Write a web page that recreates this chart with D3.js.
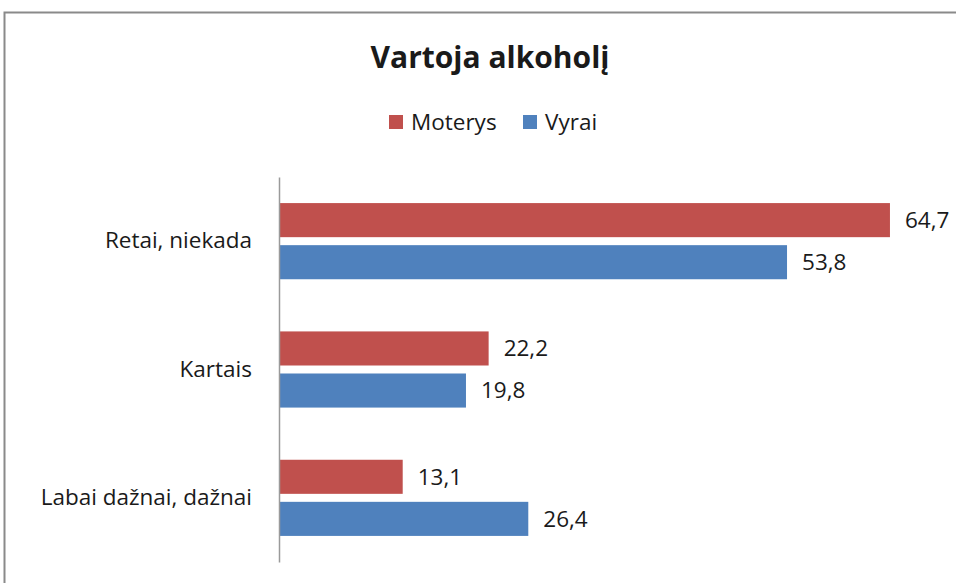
<!DOCTYPE html>
<html>
<head>
<meta charset="utf-8">
<script src="https://cdn.jsdelivr.net/npm/d3@7"></script>
<style>
  body { margin: 0; background: #fff; }
  text { font-family: "Open Sans", "Noto Sans", sans-serif; fill: #1a1a1a; }
</style>
</head>
<body>
<svg id="graph" width="956" height="583"></svg>
<script>
// duomenys
const categories = ['Retai, niekada', 'Kartais', 'Labai dažnai, dažnai'];
const seriesNames = ['Moterys', 'Vyrai'];
const moterys = [64.7, 22.2, 13.1];
const vyrai = [53.8, 19.8, 26.4];
const seriesColors = ['#C0504D', '#4F81BD'];
const title = 'Vartoja alkoholį';

const svg = d3.select('#graph');
const margin = { top: 177, left: 279 };
const plotRight = 940;
const plotBottom = 562;
const fontSize = '22.5px';

// rėmelis
svg.append('rect')
   .attr('x', 4.5).attr('y', 12.5)
   .attr('width', 1000).attr('height', 600)
   .attr('fill', 'none')
   .attr('stroke', '#8a8a8a')
   .attr('stroke-width', 2);

const xScale = d3.scaleLinear()
                 .domain([0, 70])
                 .range([margin.left, plotRight]);

const yScale = d3.scaleBand()
                 .domain(categories)
                 .range([margin.top, plotBottom]);

const inner = d3.scaleBand()
                .domain(seriesNames)
                .range([0, yScale.bandwidth()])
                .paddingInner(0.19)
                .paddingOuter(0.62);

const rows = categories.map((c, i) => ({ cat: c, values: [moterys[i], vyrai[i]] }));

const group = svg.selectAll('.grp').data(rows).enter().append('g')
    .attr('class', 'grp')
    .attr('transform', d => `translate(0, ${yScale(d.cat)})`);

group.selectAll('rect')
     .data(d => d.values.map((v, j) => ({ name: seriesNames[j], v, color: seriesColors[j] })))
     .enter().append('rect')
     .attr('x', xScale(0))
     .attr('y', d => inner(d.name))
     .attr('width', d => xScale(d.v) - xScale(0))
     .attr('height', inner.bandwidth())
     .attr('fill', d => d.color);

group.selectAll('.value_label')
     .data(d => d.values.map((v, j) => ({ name: seriesNames[j], v })))
     .enter().append('text')
     .attr('class', 'value_label')
     .attr('x', d => xScale(d.v) + 15)
     .attr('y', d => inner(d.name) + inner.bandwidth() / 2)
     .attr('dy', '0.35em')
     .style('font-size', fontSize)
     .text(d => d.v.toFixed(1).replace('.', ','));

// ašis
const yAxis = d3.axisLeft(yScale).tickSize(0).tickPadding(27);
const ax = svg.append('g')
   .attr('transform', `translate(${margin.left}, 0)`)
   .call(yAxis);
ax.select('.domain').attr('stroke', '#9a9a9a').attr('stroke-width', 1.5);
ax.selectAll('text')
  .style('font-size', fontSize)
  .style('font-family', '"Open Sans", sans-serif')
  .attr('fill', '#1a1a1a');

// pavadinimas
svg.append('text')
   .attr('x', 490).attr('y', 68)
   .attr('text-anchor', 'middle')
   .style('font-size', '30px')
   .style('font-weight', 'bold')
   .text(title);

// legenda
const legendX = [389, 523];
const legend = svg.selectAll('.legend').data(seriesNames).enter().append('g')
   .attr('class', 'legend')
   .attr('transform', (d, i) => `translate(${legendX[i]}, 115)`);
legend.append('rect')
   .attr('width', 14).attr('height', 14)
   .attr('fill', (d, i) => seriesColors[i]);
legend.append('text')
   .attr('x', 22).attr('y', 7)
   .attr('dy', '0.35em')
   .style('font-size', fontSize)
   .text(d => d);
</script>
</body>
</html>
